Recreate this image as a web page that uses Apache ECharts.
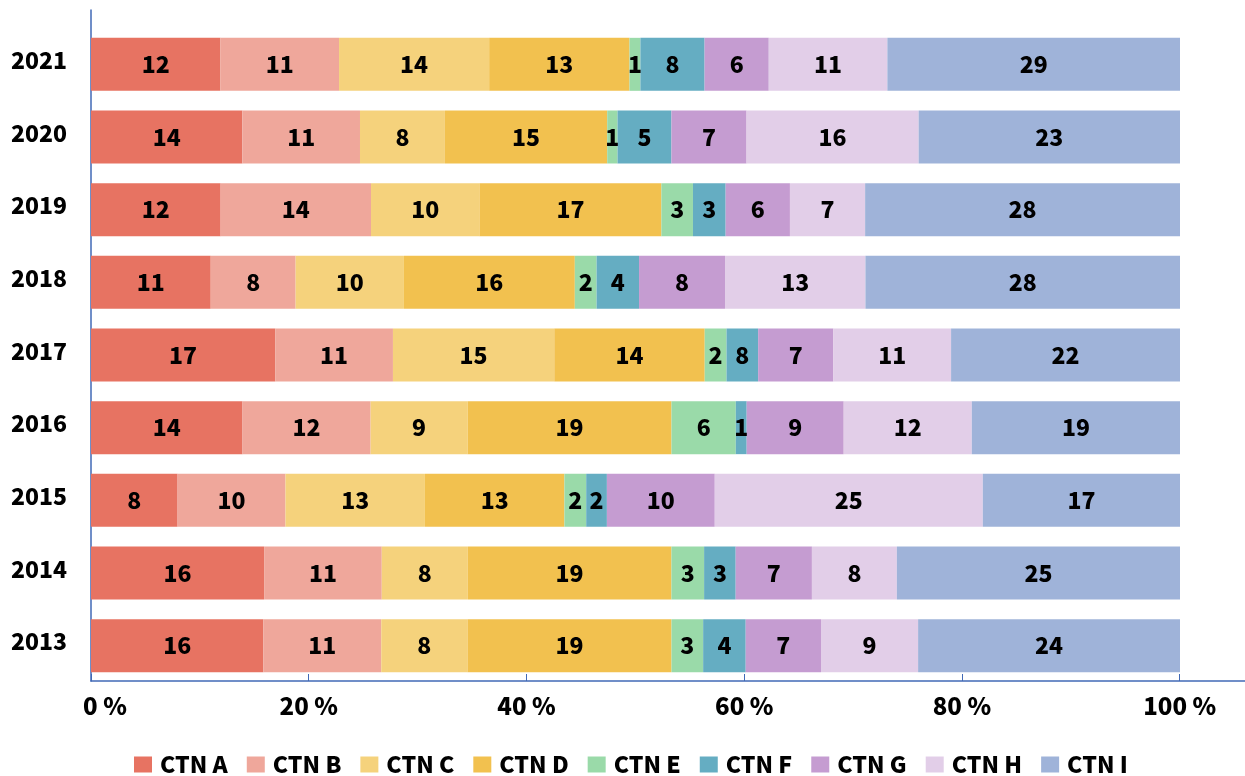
<!DOCTYPE html>
<html>
<head>
<meta charset="utf-8">
<style>
  html, body { margin: 0; padding: 0; background: #fff; }
  #main { width: 1245px; height: 776px; }
</style>
<script src="https://cdn.jsdelivr.net/npm/echarts@6/dist/echarts.min.js"></script>
</head>
<body>
<div id="main"></div>
<script>
// 年份（自下而上）
var years = ['2013', '2014', '2015', '2016', '2017', '2018', '2019', '2020', '2021'];
var names = ['CTN A', 'CTN B', 'CTN C', 'CTN D', 'CTN E', 'CTN F', 'CTN G', 'CTN H', 'CTN I'];
var xTickStep = 20;

// 条形长度（各段占比，%）
var lenA = [15.8, 15.9, 7.95, 13.9, 16.9, 11.0, 11.9, 13.9, 11.9];
var lenB = [10.8, 10.8, 9.9, 11.75, 10.8, 7.8, 13.8, 10.8, 10.9];
var lenC = [7.9, 7.9, 12.8, 8.9, 14.8, 9.95, 9.95, 7.8, 13.8];
var lenD = [18.7, 18.7, 12.8, 18.7, 13.8, 15.7, 16.7, 14.9, 12.9];
var lenE = [2.9, 3.0, 2.0, 5.9, 2.0, 2.0, 2.9, 0.95, 1.0];
var lenF = [3.9, 2.9, 1.9, 1.0, 2.9, 3.9, 3.0, 4.95, 5.9];
var lenG = [6.9, 7.0, 9.9, 8.9, 6.9, 7.9, 5.9, 6.9, 5.9];
var lenH = [8.9, 7.8, 24.6, 11.75, 10.8, 12.9, 6.9, 15.8, 10.9];
var lenI = [24.0, 26.0, 18.1, 19.1, 21.0, 28.9, 28.9, 24.0, 26.9];

// 数据标签（图上显示的数字）
var lblA = [16, 16, 8, 14, 17, 11, 12, 14, 12];
var lblB = [11, 11, 10, 12, 11, 8, 14, 11, 11];
var lblC = [8, 8, 13, 9, 15, 10, 10, 8, 14];
var lblD = [19, 19, 13, 19, 14, 16, 17, 15, 13];
var lblE = [3, 3, 2, 6, 2, 2, 3, 1, 1];
var lblF = [4, 3, 2, 1, 8, 4, 3, 5, 8];
var lblG = [7, 7, 10, 9, 7, 8, 6, 7, 6];
var lblH = [9, 8, 25, 12, 11, 13, 7, 16, 11];
var lblI = [24, 25, 17, 19, 22, 28, 28, 23, 29];

var colors = ['#E77362', '#EFA79B', '#F5D27C', '#F2C14F', '#9ADAA9', '#65ADC2', '#C59CD1', '#E2CEE8', '#9FB3D9'];

var lens = [lenA, lenB, lenC, lenD, lenE, lenF, lenG, lenH, lenI];
var lbls = [lblA, lblB, lblC, lblD, lblE, lblF, lblG, lblH, lblI];

var FONT = '"Noto Sans CJK SC", "Noto Sans", sans-serif';
var WEIGHT = 900;
var AXIS_COLOR = '#4169B6';

// 每年合计，用于换算成100%
var totals = years.map(function (y, j) {
    var s = 0;
    lens.forEach(function (arr) { s += arr[j]; });
    return s;
});

var series = names.map(function (name, k) {
    return {
        name: name,
        type: 'bar',
        stack: 'total',
        xAxisIndex: 0,
        yAxisIndex: 0,
        barWidth: 53,
        color: colors[k],
        data: lens[k].map(function (v, j) { return v / totals[j] * 100; }),
        label: {
            show: true,
            position: 'inside',
            color: '#000',
            fontSize: 23,
            fontWeight: WEIGHT,
            fontFamily: FONT,
            formatter: function (p) { return lbls[k][p.dataIndex]; }
        }
    };
});

var option = {
    animation: false,
    legend: {
        data: names,
        left: 129,
        bottom: -5,
        itemWidth: 18,
        itemHeight: 16,
        itemGap: 19,
        icon: 'rect',
        textStyle: {
            color: '#000',
            fontSize: 23,
            fontWeight: WEIGHT,
            fontFamily: FONT,
            padding: [0, 0, 0, 3]
        }
    },
    grid: [
        // 条形区域
        { left: 91, right: 65, top: 28, bottom: 94 },
        // 坐标轴线（比条形区域更长）
        { left: 91, right: 0, top: 10, bottom: 95 }
    ],
    xAxis: [
        {
            gridIndex: 0,
            type: 'value',
            min: 0,
            max: 100,
            show: false
        },
        {
            gridIndex: 1,
            type: 'value',
            min: 0,
            max: 106,
            interval: xTickStep,
            axisLine: { show: true, lineStyle: { color: AXIS_COLOR, width: 1.5 } },
            axisTick: { show: true, inside: true, length: 7, lineStyle: { color: AXIS_COLOR } },
            splitLine: { show: false },
            axisLabel: {
                showMaxLabel: false,
                margin: 13,
                color: '#000',
                fontSize: 24,
                fontWeight: WEIGHT,
                fontFamily: FONT,
                formatter: function (v) {
                    if (v > 100) return '';
                    if (v === 0) return '{z|0 %}';
                    return v + ' %';
                },
                rich: {
                    z: {
                        padding: [0, 0, 0, 28],
                        color: '#000',
                        fontSize: 24,
                        fontWeight: WEIGHT,
                        fontFamily: FONT
                    }
                }
            }
        }
    ],
    yAxis: [
        {
            gridIndex: 0,
            type: 'category',
            data: years,
            offset: 2,
            axisLine: { show: false },
            axisTick: { show: true, inside: true, length: 3, alignWithLabel: true, lineStyle: { color: AXIS_COLOR } },
            axisLabel: {
                margin: 22,
                color: '#000',
                fontSize: 23,
                fontWeight: WEIGHT,
                fontFamily: FONT,
                verticalAlign: 'bottom',
                lineHeight: 8
            }
        },
        {
            gridIndex: 1,
            type: 'value',
            min: 0,
            max: 1,
            offset: 2,
            axisLine: { show: true, lineStyle: { color: AXIS_COLOR, width: 1.5 } },
            axisTick: { show: false },
            axisLabel: { show: false },
            splitLine: { show: false }
        }
    ],
    series: series
};

var myChart = echarts.init(document.getElementById('main'));
myChart.setOption(option, true);
</script>
</body>
</html>
